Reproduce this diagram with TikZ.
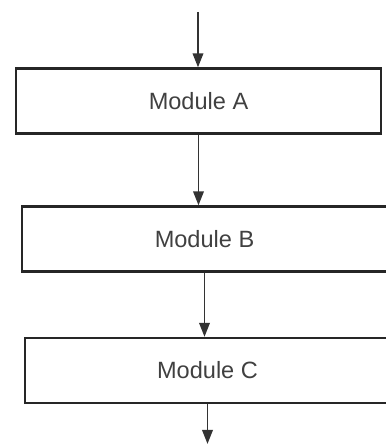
\documentclass[tikz,border=0pt]{standalone}
\usepackage{fontspec}
\setmainfont{Liberation Sans}
\usetikzlibrary{arrows.meta}

\begin{document}
\begin{tikzpicture}
\tikzset{
  module/.style={draw=black!85, line width=1.3pt, minimum width=7.3cm, minimum height=1.3cm,
    inner sep=0pt, text=black!75, font=\fontsize{13.4}{16}\selectfont},
  flow/.style={-{Triangle[length=8pt, width=6pt]}, draw=black!80, line width=1.1pt}
}
\useasboundingbox (0,0) rectangle (7.72,-8.9);
%the modules
\node [module] (A) at (3.97,-2.02) {Module A};
\node [module] (B) at (4.09,-4.78) {Module B};
\node [module] (C) at (4.15,-7.41) {Module C};
%free ends
\coordinate (in) at (3.96,-0.24);
\coordinate (out) at (4.10,-8.88);
%the flow
\draw [flow] (in) -- (in |- A.north);
\draw [flow] (A.south) -- (A.south |- B.north);
\draw [flow] (B.south) -- (B.south |- C.north);
\draw [flow] (C.south) -- (C.south |- out);
\end{tikzpicture}
\end{document}
